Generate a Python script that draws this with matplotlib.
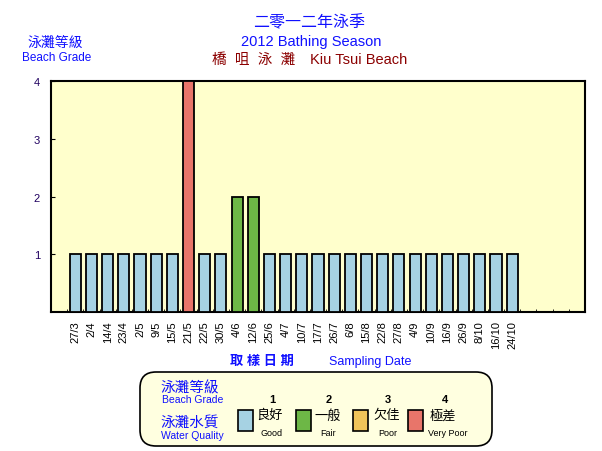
import matplotlib
matplotlib.use("Agg")
import matplotlib.pyplot as plt
from matplotlib.patches import FancyBboxPatch, Rectangle

plt.rcParams['font.family'] = ['Liberation Sans', 'Noto Sans CJK TC', 'DejaVu Sans']

# data
dates = ['27/3', '2/4', '14/4', '23/4', '2/5', '9/5', '15/5', '21/5', '22/5', '30/5',
         '4/6', '12/6', '25/6', '4/7', '10/7', '17/7', '26/7', '6/8', '15/8', '22/8',
         '27/8', '4/9', '10/9', '16/9', '26/9', '8/10', '16/10', '24/10']
grades = [1, 1, 1, 1, 1, 1, 1, 4, 1, 1,
          2, 2, 1, 1, 1, 1, 1, 1, 1, 1,
          1, 1, 1, 1, 1, 1, 1, 1]
grade_colors = {1: '#a6d2e3', 2: '#6db746', 3: '#f0c45a', 4: '#e8756a'}
grade_nums = ['1', '2', '3', '4']
grade_zh = ['良好', '一般', '欠佳', '極差']
grade_en = ['Good', 'Fair', 'Poor', 'Very Poor']
n_slots = 33

blue = '#1010ff'
W, H = 602, 452

fig = plt.figure(figsize=(W / 100, H / 100), dpi=100, facecolor='white')

# overlay in pixel coords for texts and legend box
ov = fig.add_axes([0, 0, 1, 1])
ov.set_xlim(0, W)
ov.set_ylim(H, 0)
ov.axis('off')

ov.text(309, 22, '二零一二年泳季', color=blue, fontsize=11.5, ha='center', va='center')
ov.text(311, 42, '2012 Bathing Season', color=blue, fontsize=10.5, ha='center', va='center')
ov.text(212, 60, '橋  咀  泳  灘', color='#8b0000', fontsize=10.5, ha='left', va='center')
ov.text(310, 60, 'Kiu Tsui Beach', color='#8b0000', fontsize=10.5, ha='left', va='center')
ov.text(55, 43, '泳灘等級', color=blue, fontsize=10, ha='center', va='center')
ov.text(57, 58, 'Beach Grade', color=blue, fontsize=8.5, ha='center', va='center')

ov.text(262, 362, '取 樣 日 期', color=blue, fontsize=9.5, ha='center', va='center',
        fontweight='bold')
ov.text(370, 362, 'Sampling Date', color=blue, fontsize=9, ha='center', va='center')

box = FancyBboxPatch((143, 376), 346, 68, boxstyle='round,pad=3,rounding_size=16',
                     facecolor='#ffffe0', edgecolor='black', linewidth=1.2)
ov.add_patch(box)
ov.text(190, 388, '泳灘等級', color=blue, fontsize=10.5, ha='center', va='center')
ov.text(193, 400, 'Beach Grade', color=blue, fontsize=7.5, ha='center', va='center')
ov.text(190, 423, '泳灘水質', color=blue, fontsize=10.5, ha='center', va='center')
ov.text(192, 436, 'Water Quality', color=blue, fontsize=7.5, ha='center', va='center')

sq_x = [238, 296, 353, 408]
num_x = [272, 329, 388, 445]
zh_x = [270, 328, 387, 443]
en_x = [272, 328, 388, 448]
for i in range(4):
    ov.add_patch(Rectangle((sq_x[i], 411), 15, 21, facecolor=grade_colors[i + 1],
                           edgecolor='black', linewidth=1.2))
    ov.text(num_x[i], 400, grade_nums[i], color='black', fontsize=8, fontweight='bold',
            ha='center', va='center')
    ov.text(zh_x[i], 416, grade_zh[i], color='black', fontsize=9.5, ha='center', va='center')
    ov.text(en_x[i], 434, grade_en[i], color='black', fontsize=6.5, ha='center', va='center')

# main chart
ax = fig.add_axes([51 / W, 1 - 313 / H, (585 - 51) / W, (313 - 82) / H])
ax.set_facecolor('#ffffcc')
xs = list(range(1, len(dates) + 1))
ax.bar(xs, grades, width=0.68, color=[grade_colors[g] for g in grades],
       edgecolor='black', linewidth=1.3, zorder=3)
ax.set_xlim(-0.5, n_slots - 0.5)
ax.set_ylim(0, 4)
ax.set_yticks([1, 2, 3, 4])
ax.set_yticklabels(['1', '2', '3', '4'], fontsize=8, color='#200060')
ax.tick_params(axis='y', direction='in', length=3, pad=8)
ax.set_xticks(xs)
ax.set_xticklabels(dates, rotation=90, fontsize=8)
ax.tick_params(axis='x', which='major', length=0, pad=6)
ax.set_xticks([i + 0.5 for i in range(n_slots - 1)], minor=True)
ax.tick_params(axis='x', which='minor', direction='in', length=2.5)
for s in ax.spines.values():
    s.set_linewidth(1.5)

fig.savefig('out.png', dpi=100, facecolor='white')
